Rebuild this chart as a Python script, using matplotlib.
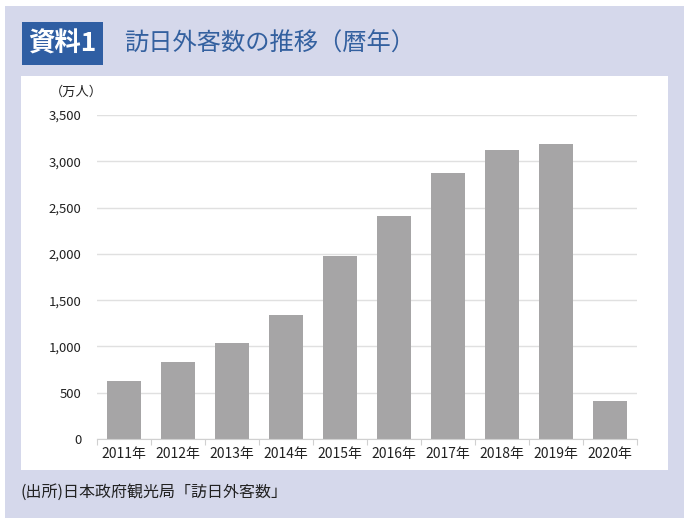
import matplotlib
matplotlib.use('Agg')
import matplotlib.pyplot as plt
from matplotlib.patches import Rectangle

plt.rcParams['font.family'] = ['Liberation Sans Narrow', 'Noto Sans CJK JP', 'DejaVu Sans']

years = ['2011年', '2012年', '2013年', '2014年', '2015年',
         '2016年', '2017年', '2018年', '2019年', '2020年']
visitors = [622, 836, 1036, 1341, 1974, 2404, 2869, 3119, 3188, 412]
yticks = [0, 500, 1000, 1500, 2000, 2500, 3000, 3500]
ytick_labels = ['0', '500', '1,000', '1,500', '2,000', '2,500', '3,000', '3,500']

W, H = 690, 524
fig = plt.figure(figsize=(W / 100, H / 100), dpi=100)

def px_rect(x0, y0, x1, y1, color):
    # rectangle in pixel coords (origin top-left)
    fig.patches.append(Rectangle((x0 / W, 1 - y1 / H), (x1 - x0) / W, (y1 - y0) / H,
                                 transform=fig.transFigure, facecolor=color,
                                 edgecolor='none', zorder=-10))

px_rect(5, 6, 684, 518, '#d5d8eb')   # lavender panel
px_rect(21, 76, 668, 470, 'white')   # chart area
px_rect(22, 22, 103, 65, '#2f5ea3')  # title badge

fig.text(62 / W, 1 - 44 / H, '資料1', color='white', fontsize=19, fontweight='bold',
         ha='center', va='center', family=['Noto Sans CJK JP'])
fig.text(124 / W, 1 - 44 / H, '訪日外客数の推移（暦年）', color='#33609f', fontsize=17.5,
         fontweight='normal', ha='left', va='center', family=['Noto Sans CJK JP'])

ax = fig.add_axes([97 / W, 1 - 439 / H, (637 - 97) / W, (439 - 115) / H])
ax.set_zorder(1)
ax.set_facecolor('none')
x = range(len(years))
ax.bar(x, visitors, width=0.62, color='#a6a5a6', zorder=2)
ax.set_xlim(-0.5, len(years) - 0.5)
ax.set_ylim(0, 3500)
ax.set_yticks(yticks)
ax.set_yticklabels(ytick_labels, fontsize=9.5, color='#222222')
ax.set_xticks(list(x))
ax.set_xticklabels(years, fontsize=10, color='#222222')
ax.tick_params(axis='y', length=0, pad=11)
ax.tick_params(axis='x', length=0, pad=6)
ax.set_xticks([i - 0.5 for i in range(len(years) + 1)], minor=True)
ax.tick_params(axis='x', which='minor', length=4, color='#d0d0d0', width=0.8)
ax.grid(axis='y', color='#e0e0e0', linewidth=1, zorder=0)
for s in ['top', 'right', 'left']:
    ax.spines[s].set_visible(False)
ax.spines['bottom'].set_color('#d0d0d0')
ax.spines['bottom'].set_zorder(3)

fig.text(76 / W, 1 - 92 / H, '（万人）', fontsize=9.5, color='#222222',
         ha='center', va='center', family=['Noto Sans CJK JP'])
fig.text(20 / W, 1 - 492 / H, '(出所)日本政府観光局「訪日外客数」', fontsize=11.5,
         color='#222222', ha='left', va='center', family=['Noto Sans CJK JP'])

fig.savefig('out.png', dpi=100)
